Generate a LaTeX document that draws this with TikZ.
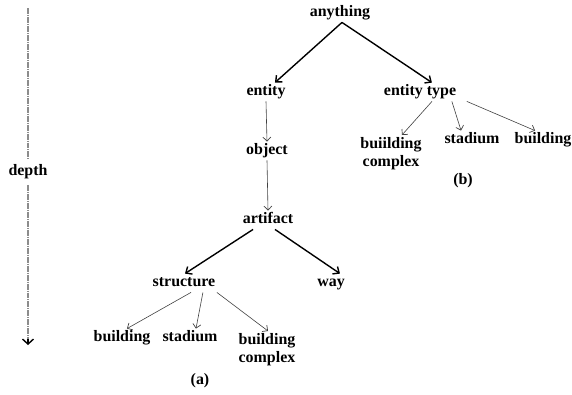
\documentclass[tikz,border=0pt]{standalone}
\usepackage{fontspec}
\setmainfont{Liberation Serif}
\usetikzlibrary{arrows.meta,calc}
\begin{document}
\begin{tikzpicture}[x=1bp,y=-1bp,
  lbl/.style={font=\fontsize{16}{18}\selectfont\bfseries, inner sep=2.5pt, align=center, text height=10pt, text depth=3.5pt},
  thickarr/.style={line width=1.4pt, -{Straight Barb[length=5pt,width=9pt,line width=1.4pt]}},
  thinarr/.style={line width=0.6pt, draw=black!75, -{Straight Barb[length=4pt,width=8pt,line width=0.7pt]}},
  depthline/.style={line width=1.3pt, draw=black!45, dash pattern=on 6pt off 1pt on 1pt off 1pt}]
\useasboundingbox (0,0) rectangle (572,394);
% depth axis
\coordinate (dtop) at (28,8);
\coordinate (dbot) at (28,345);
\node[lbl, inner sep=6pt] (depth) at (28,172) {depth};
\draw[depthline] (dtop) -- (depth.north);
\draw[depthline] (depth.south) -- ($(dbot)+(0,-5)$);
\draw[line width=1.4pt, -{Straight Barb[length=5pt,width=11pt,line width=1.4pt]}] ($(dbot)+(0,-6)$) -- (dbot);
% tree (a)
\node[lbl] (anything) at (340,13) {anything};
\node[lbl] (entity) at (266,92) {entity};
\node[lbl] (etype) at (420,92) {entity type};
\node[lbl] (object) at (267,151) {object};
\node[lbl] (artifact) at (268,220) {artifact};
\node[lbl] (structure) at (184,283) {structure};
\node[lbl] (way) at (331,283) {way};
\node[lbl] (abuilding) at (122,338) {building};
\node[lbl] (astadium) at (190,338) {stadium};
\node[lbl, anchor=north, text height=, text depth=] (acomplex) at (267,331) {building\\complex};
\node[lbl] (alabel) at (200,381) {(a)};
% tree (b)
\node[lbl, anchor=north, text height=, text depth=] (bcomplex) at (391,135) {buiilding\\complex};
\node[lbl] (bstadium) at (472,140) {stadium};
\node[lbl] (bbuilding) at (543,140) {building};
\node[lbl] (blabel) at (463,181) {(b)};
% connectors
\draw[thickarr] ([xshift=2pt]anything.south) -- ([xshift=9pt]entity.north);
\draw[thickarr] ([xshift=2pt]anything.south) -- ([xshift=12pt]etype.north);
\draw[thinarr] (entity.south) -- (object.north);
\draw[thinarr] (object.south) -- (artifact.north);
\draw[thickarr] ([xshift=-15pt]artifact.south) -- ([xshift=1pt]structure.north);
\draw[thickarr] ([xshift=7pt]artifact.south) -- ([xshift=9pt]way.north);
\draw[thinarr] ([xshift=7pt]structure.south) -- ([xshift=5pt]abuilding.north);
\draw[thinarr] ([xshift=19pt]structure.south) -- ([xshift=6pt]astadium.north);
\draw[thinarr] ([xshift=33pt]structure.south) -- ([xshift=1pt]acomplex.north);
\draw[thinarr] ([xshift=12pt]etype.south) -- ([xshift=11pt]bcomplex.north);
\draw[thinarr] ([xshift=32pt]etype.south) -- ([xshift=-11pt]bstadium.north);
\draw[thinarr] ([xshift=47pt]etype.south) -- ([xshift=-8pt]bbuilding.north);
\end{tikzpicture}
\end{document}
